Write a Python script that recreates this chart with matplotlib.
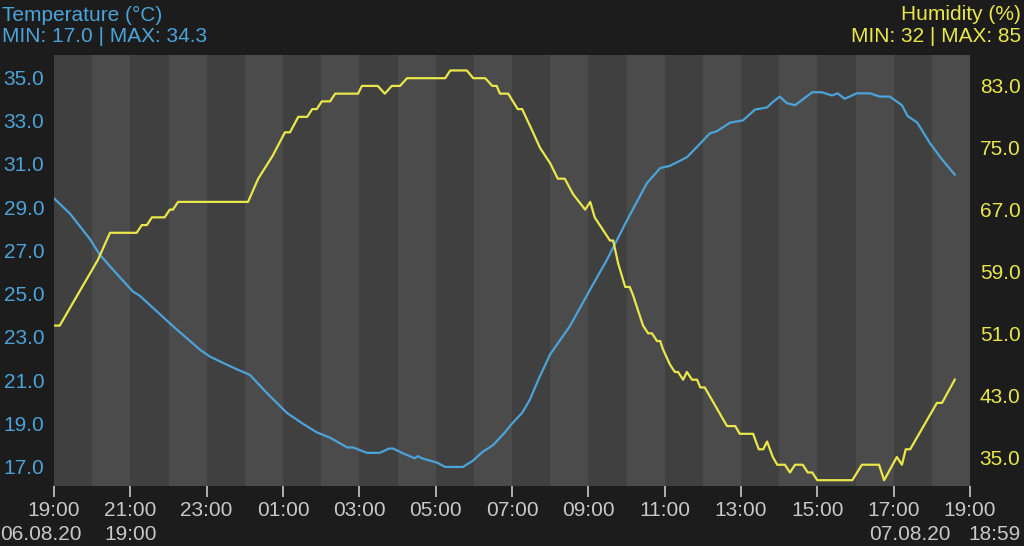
import pandas as pd
import matplotlib
matplotlib.use("Agg")
import matplotlib.pyplot as plt

plt.rcParams['font.family'] = ['Liberation Sans', 'DejaVu Sans']

# Temperature readings (°C), times on 06.08.20 -> 07.08.20
temp_times = ["19:00", "19:25", "19:57", "20:12", "20:36", "21:04", "21:15", "22:07",
              "22:50", "23:05", "23:26", "23:48", "00:08", "00:35", "01:06", "01:31",
              "01:53", "02:14", "02:41", "02:50", "03:12", "03:32", "03:47", "03:53",
              "04:07", "04:27", "04:32", "04:38", "05:02", "05:15", "05:43", "05:59",
              "06:14", "06:30", "06:49", "07:00", "07:16", "07:28", "07:41", "08:00",
              "08:31", "09:03", "09:29", "10:01", "10:32", "10:53", "11:08", "11:35",
              "11:45", "12:11", "12:22", "12:43", "13:03", "13:22", "13:41", "13:50",
              "14:01", "14:12", "14:25", "14:52", "15:07", "15:23", "15:32", "15:43",
              "16:02", "16:23", "16:38", "16:54", "17:13", "17:22", "17:37", "17:57",
              "18:16", "18:36"]
temp_values = [29.4, 28.7, 27.5, 26.8, 26.0, 25.1, 24.9, 23.5,
               22.4, 22.1, 21.8, 21.5, 21.25, 20.4, 19.5, 19.0,
               18.6, 18.35, 17.9, 17.9, 17.65, 17.65, 17.85, 17.85,
               17.65, 17.4, 17.5, 17.4, 17.2, 17.0, 17.0, 17.3,
               17.7, 18.0, 18.6, 19.0, 19.5, 20.1, 21.0, 22.2,
               23.5, 25.2, 26.55, 28.4, 30.1, 30.8, 30.9, 31.3,
               31.6, 32.4, 32.5, 32.9, 33.0, 33.5, 33.6, 33.85,
               34.1, 33.8, 33.7, 34.3, 34.3, 34.15, 34.25, 34.0,
               34.25, 34.25, 34.1, 34.1, 33.7, 33.2, 32.9, 31.95,
               31.2, 30.5]

# Humidity readings (%)
hum_times = ["19:00", "19:09", "20:09", "20:28", "21:10", "21:18", "21:26", "21:34",
             "21:54", "22:02", "22:07", "22:15", "00:05", "00:21", "00:44", "01:03",
             "01:11", "01:24", "01:38", "01:46", "01:53", "02:01", "02:14", "02:22",
             "02:58", "03:04", "03:29", "03:40", "03:51", "04:04", "04:15", "05:15",
             "05:23", "05:49", "05:59", "06:18", "06:29", "06:36", "06:41", "06:54",
             "07:09", "07:16", "07:33", "07:44", "08:00", "08:12", "08:23", "08:36",
             "08:55", "09:03", "09:10", "09:26", "09:34", "09:39", "09:47", "09:58",
             "10:05", "10:10", "10:26", "10:34", "10:40", "10:48", "10:53", "10:57",
             "11:08", "11:16", "11:21", "11:29", "11:35", "11:43", "11:51", "11:56",
             "12:03", "12:38", "12:51", "12:58", "13:19", "13:28", "13:35", "13:41",
             "13:50", "13:57", "14:09", "14:17", "14:25", "14:37", "14:45", "14:52",
             "15:00", "15:55", "16:10", "16:37", "16:45", "17:05", "17:13", "17:19",
             "17:26", "18:08", "18:16", "18:36"]
hum_values = [52, 52, 60.5, 64, 64, 65, 65, 66,
              66, 67, 67, 68, 68, 71, 74, 77,
              77, 79, 79, 80, 80, 81, 81, 82,
              82, 83, 83, 82, 83, 83, 84, 84,
              85, 85, 84, 84, 83, 83, 82, 82,
              80, 80, 77, 75, 73, 71, 71, 69,
              67, 68, 66, 64, 63, 63, 60, 57,
              57, 56, 52, 51, 51, 50, 50, 49,
              47, 46, 46, 45, 46, 45, 45, 44,
              44, 39, 39, 38, 38, 36, 36, 37,
              35, 34, 34, 33, 34, 34, 33, 33,
              32, 32, 34, 34, 32, 35, 34, 36,
              36, 42, 42, 45]

temp_ticks = [17, 19, 21, 23, 25, 27, 29, 31, 33, 35]
hum_ticks = [35, 43, 51, 59, 67, 75, 83]

start = pd.Timestamp("2020-08-06 19:00")
end = pd.Timestamp("2020-08-07 19:00")


def to_datetimes(times):
    out = []
    for t in times:
        ts = pd.Timestamp("2020-08-06 " + t)
        if ts < start:
            ts += pd.Timedelta(days=1)
        out.append(ts)
    return out


BG = "#1c1c1c"
BLUE = "#4ba3d9"
YELLOW = "#e9e74a"
GREY = "#c8c8c8"
FS = 15

fig = plt.figure(figsize=(10.24, 5.46), dpi=100, facecolor=BG)
ax = fig.add_axes([54 / 1024, 1 - 486 / 546, 916 / 1024, 431 / 546])
ax.set_facecolor("#404040")
ax2 = ax.twinx()

# hourly stripes (every second hour lighter)
hours = pd.date_range(start, end, freq="h")
for i in range(1, len(hours) - 1, 2):
    ax.axvspan(hours[i], hours[i + 1], color="#4b4b4b", lw=0, zorder=0,
               antialiased=False)

ax.plot(to_datetimes(temp_times), temp_values, color=BLUE, lw=1.6, zorder=3)
ax2.plot(to_datetimes(hum_times), hum_values, color=YELLOW, lw=1.6, zorder=3)

ax.set_xlim(start, end)
ax.set_ylim(16.12, 36.02)
ax2.set_ylim(31.25, 87.0)

ax.set_yticks(temp_ticks)
ax.set_yticklabels([f"{v:.1f}" for v in temp_ticks])
ax2.set_yticks(hum_ticks)
ax2.set_yticklabels([f"{v:.1f}" for v in hum_ticks])

xt = list(pd.date_range(start, end, freq="2h"))
ax.set_xticks(xt)
ax.set_xticklabels([t.strftime("%H:%M") for t in xt])

ax.tick_params(axis="x", colors=GREY, length=8, width=1.2, pad=3, labelsize=FS)
ax.tick_params(axis="y", colors=BLUE, length=0, pad=7, labelsize=FS)
ax2.tick_params(axis="y", colors=YELLOW, length=0, pad=7, labelsize=FS)

for a in (ax, ax2):
    for s in a.spines.values():
        s.set_visible(False)

# headers
fig.text(2 / 1024, 1 - 15 / 546, "Temperature (°C)", color=BLUE, fontsize=FS, va="center")
fig.text(2 / 1024, 1 - 36 / 546, "MIN: 17.0 | MAX: 34.3", color=BLUE, fontsize=FS, va="center")
fig.text(1021 / 1024, 1 - 15 / 546, "Humidity (%)", color=YELLOW, fontsize=FS,
         va="center", ha="right")
fig.text(1021 / 1024, 1 - 36 / 546, "MIN: 32 | MAX: 85", color=YELLOW, fontsize=FS,
         va="center", ha="right")

# date footer
fig.text(0 / 1024, 1 - 534 / 546, "06.08.20", color=GREY, fontsize=FS, va="center")
fig.text(104 / 1024, 1 - 534 / 546, "19:00", color=GREY, fontsize=FS, va="center")
fig.text(951 / 1024, 1 - 534 / 546, "07.08.20", color=GREY, fontsize=FS, va="center",
         ha="right")
fig.text(1021 / 1024, 1 - 534 / 546, "18:59", color=GREY, fontsize=FS, va="center",
         ha="right")

fig.savefig("out.png", dpi=100, facecolor=BG)
